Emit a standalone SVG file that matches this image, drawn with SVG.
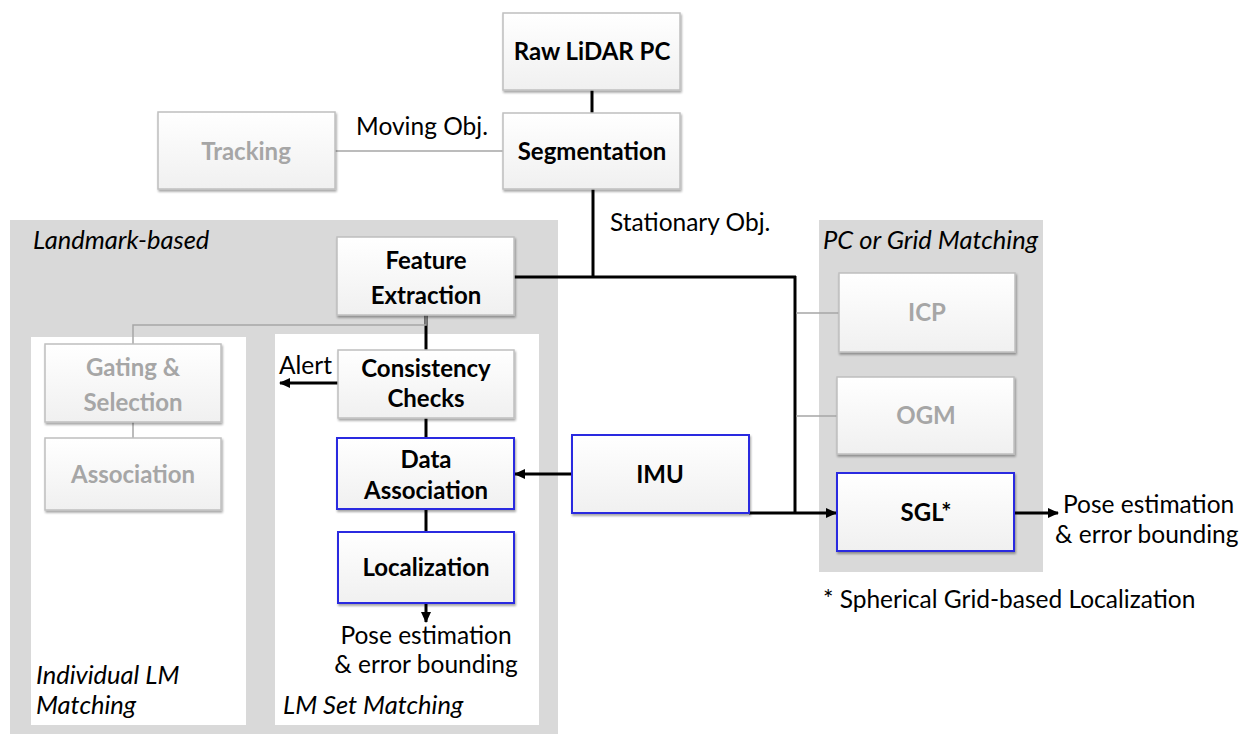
<svg xmlns="http://www.w3.org/2000/svg" width="1248" height="734" viewBox="0 0 1248 734">
  <style>
    text { font-family: Lato, "Liberation Sans", sans-serif; }
    .panel { fill: #d9d9d9; }
    .sub { fill: #ffffff; }
    .box { fill: url(#boxFill); stroke: #bfbfbf; stroke-width: 1.5; filter: url(#shadow); }
    .box.blue { stroke: #2a2ae0; stroke-width: 2; }
    .lbl { font-size: 24px; font-weight: bold; fill: #000; text-anchor: middle; }
    .lbl.dim { fill: #a6a6a6; }
    .note { font-size: 24.5px; fill: #000; }
    .cap { font-size: 25.5px; font-style: italic; fill: #000; }
    .wire { stroke: #000; stroke-width: 3; fill: none; }
    .wire-dim { stroke: #a6a6a6; stroke-width: 1.5; fill: none; }
  </style>
  <defs>
    <linearGradient id="boxFill" x1="0" y1="0" x2="0" y2="1">
      <stop offset="0" stop-color="#ffffff"/>
      <stop offset="1" stop-color="#f0f0f0"/>
    </linearGradient>
    <filter id="shadow" x="-10%" y="-10%" width="120%" height="130%">
      <feDropShadow dx="1" dy="2" stdDeviation="1.2" flood-color="#000" flood-opacity="0.35"/>
    </filter>
    <marker id="arrow" markerUnits="userSpaceOnUse" markerWidth="12" markerHeight="12" refX="10" refY="6" orient="auto">
      <path d="M0,1 L11,6 L0,11 Z" fill="#000"/>
    </marker>
  </defs>

  <!-- background panels -->
  <g id="panel-landmark">
    <rect class="panel" x="10" y="220" width="548" height="514"/>
    <text class="cap" x="33" y="249">Landmark-based</text>
  </g>
  <g id="panel-individual">
    <rect class="sub" x="31" y="337" width="215" height="388"/>
    <text class="cap" x="36" y="684">Individual LM</text>
    <text class="cap" x="36" y="714">Matching</text>
  </g>
  <g id="panel-set">
    <rect class="sub" x="275" y="334" width="264" height="391"/>
    <text class="cap" x="283" y="714">LM Set Matching</text>
  </g>
  <g id="panel-grid">
    <rect class="panel" x="819" y="220" width="224" height="352"/>
    <text class="cap" x="823" y="249">PC or Grid Matching</text>
  </g>

  <!-- connectors -->
  <g id="connectors">
    <line class="wire" x1="592" y1="90" x2="592" y2="113"/>
    <polyline class="wire" points="593,189 593,277"/>
    <line class="wire" x1="514" y1="277" x2="796" y2="277"/>
    <line class="wire" x1="795" y1="276" x2="795" y2="513"/>
    <line class="wire" x1="749" y1="513" x2="836" y2="513" marker-end="url(#arrow)"/>
    <line class="wire" x1="1014" y1="513" x2="1058" y2="513" marker-end="url(#arrow)"/>
    <line class="wire" x1="426" y1="315" x2="426" y2="350"/>
    <line class="wire" x1="426" y1="418" x2="426" y2="438"/>
    <line class="wire" x1="426" y1="509" x2="426" y2="532"/>
    <line class="wire" x1="426" y1="603" x2="426" y2="622" stroke-width="2" marker-end="url(#arrow)"/>
    <line class="wire" x1="338" y1="383" x2="280" y2="383" marker-end="url(#arrow)"/>
    <line class="wire" x1="572" y1="474" x2="515" y2="474" marker-end="url(#arrow)"/>
    <line class="wire-dim" x1="335" y1="151" x2="503" y2="151"/>
    <polyline class="wire-dim" points="426,315 426,325 133,325 133,344"/>
    <line class="wire-dim" x1="133" y1="422" x2="133" y2="438"/>
    <line class="wire-dim" x1="796" y1="313" x2="839" y2="313"/>
    <line class="wire-dim" x1="796" y1="416" x2="837" y2="416"/>
  </g>

  <!-- edge labels -->
  <text class="note" x="422" y="135" text-anchor="middle">Moving Obj.</text>
  <text class="note" x="610" y="231">Stationary Obj.</text>
  <text class="note" x="279" y="374">Alert</text>
  <text class="note" x="426" y="644" text-anchor="middle">Pose estimation</text>
  <text class="note" x="426" y="673" text-anchor="middle">&amp; error bounding</text>
  <text class="note" x="1063" y="513">Pose estimation</text>
  <text class="note" x="1055" y="543">&amp; error bounding</text>
  <text class="note" x="823" y="608">* Spherical Grid-based Localization</text>

  <!-- nodes -->
  <g id="raw-lidar">
    <rect class="box" x="503" y="13" width="177" height="77"/>
    <text class="lbl" x="592" y="60">Raw LiDAR PC</text>
  </g>
  <g id="segmentation">
    <rect class="box" x="503" y="113" width="177" height="76"/>
    <text class="lbl" x="592" y="160">Segmentation</text>
  </g>
  <g id="tracking">
    <rect class="box" x="158" y="112" width="177" height="77"/>
    <text class="lbl dim" x="246" y="160">Tracking</text>
  </g>
  <g id="feature-extraction">
    <rect class="box" x="337" y="237" width="177" height="78"/>
    <text class="lbl" x="426" y="269">Feature</text>
    <text class="lbl" x="426" y="304">Extraction</text>
  </g>
  <g id="gating-selection">
    <rect class="box" x="45" y="344" width="176" height="78"/>
    <text class="lbl dim" x="133" y="376">Gating &amp;</text>
    <text class="lbl dim" x="133" y="411">Selection</text>
  </g>
  <g id="association">
    <rect class="box" x="45" y="438" width="176" height="72"/>
    <text class="lbl dim" x="133" y="483">Association</text>
  </g>
  <g id="consistency-checks">
    <rect class="box" x="338" y="350" width="176" height="68"/>
    <text class="lbl" x="426" y="377">Consistency</text>
    <text class="lbl" x="426" y="407">Checks</text>
  </g>
  <g id="data-association">
    <rect class="box blue" x="337" y="438" width="177" height="71"/>
    <text class="lbl" x="426" y="468">Data</text>
    <text class="lbl" x="426" y="499">Association</text>
  </g>
  <g id="localization">
    <rect class="box blue" x="338" y="532" width="176" height="71"/>
    <text class="lbl" x="426" y="576">Localization</text>
  </g>
  <g id="imu">
    <rect class="box blue" x="572" y="435" width="177" height="78"/>
    <text class="lbl" x="660" y="483">IMU</text>
  </g>
  <g id="icp">
    <rect class="box" x="839" y="273" width="176" height="79"/>
    <text class="lbl dim" x="927" y="321">ICP</text>
  </g>
  <g id="ogm">
    <rect class="box" x="837" y="377" width="177" height="77"/>
    <text class="lbl dim" x="926" y="424">OGM</text>
  </g>
  <g id="sgl">
    <rect class="box blue" x="837" y="473" width="177" height="78"/>
    <text class="lbl" x="926" y="521">SGL*</text>
  </g>
</svg>
